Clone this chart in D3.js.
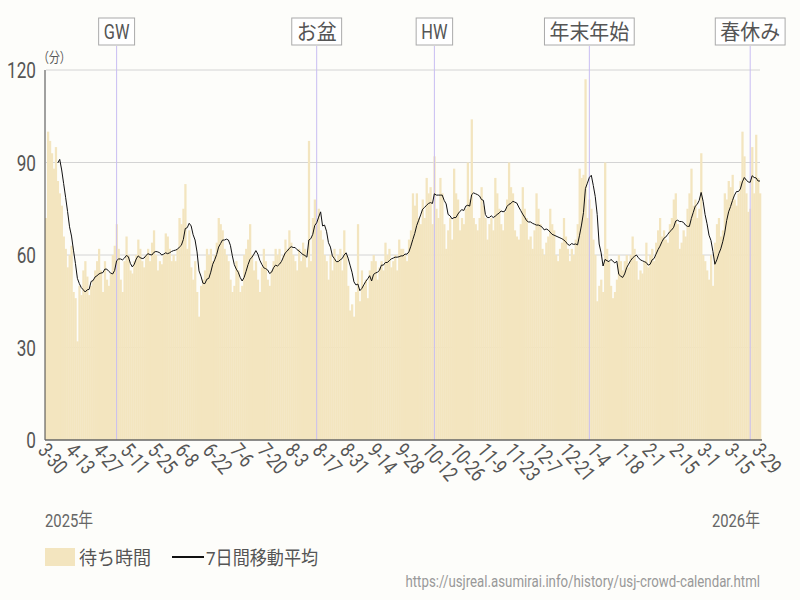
<!DOCTYPE html>
<html><head><meta charset="utf-8">
<script src="https://cdn.jsdelivr.net/npm/d3@7"></script>
<style>body{margin:0;background:#fdfdfa}svg{font-family:"Roboto","Noto Sans CJK JP",sans-serif}</style>
</head><body><svg id="c" width="800" height="600"></svg>
<script>
const startDate = "2025-03-30";
const waitTimes = [
72,100,97,93,88,95,84,
80,76,66,62,56,60,63,
48,46,32,50,47,55,58,
53,47,50,52,55,58,62,
55,48,58,52,50,54,60,
63,70,62,52,48,58,66,
60,55,54,58,60,65,62,
58,56,60,62,58,64,68,
60,55,58,57,60,67,66,
62,58,60,58,62,72,70,
75,83,62,68,56,52,58,
48,40,50,52,55,62,60,
62,58,60,64,72,70,68,
62,60,58,52,48,50,58,
55,48,50,60,62,65,70,
60,55,58,52,48,56,62,
58,52,50,55,58,62,60,
62,58,60,65,62,68,64,
60,58,55,62,58,64,62,
56,97,58,72,78,70,75,
68,65,60,58,52,60,55,
62,58,60,62,55,68,60,
50,42,44,40,48,70,45,
55,50,52,46,55,58,60,
58,52,56,58,55,64,60,
62,56,58,60,55,65,62,
62,60,58,65,68,80,76,
80,72,70,78,72,85,80,
82,70,92,75,72,85,80,
70,62,68,72,65,88,80,
78,68,72,70,75,90,78,
104,72,70,68,72,82,76,
72,65,70,72,68,85,80,
75,70,68,74,78,90,82,
80,68,66,65,70,82,75,
72,65,66,62,68,80,75,
70,62,60,64,66,75,70,
68,60,58,62,64,72,66,
62,58,62,60,65,70,88,
85,86,117,72,78,75,65,
60,45,50,52,48,90,62,
58,50,46,48,52,60,58,
55,58,60,56,60,66,62,
58,52,55,54,58,64,56,
60,62,58,64,68,72,66,
68,65,64,70,72,78,80,
70,62,64,68,66,75,80,
88,76,78,72,75,93,60,
58,55,52,60,50,64,70,
72,66,68,80,78,84,82,
86,78,76,80,84,100,92,
80,74,75,95,80,99,85,
80];
const yTicks = [0,30,60,90,120];
const events = [
 {label:"GW", date:"2025-05-05"},
 {label:"お盆", date:"2025-08-15"},
 {label:"HW", date:"2025-10-14"},
 {label:"年末年始", date:"2026-01-01"},
 {label:"春休み", date:"2026-03-24"}];

const parse = d3.timeParse("%Y-%m-%d");
const t0 = parse(startDate);
const data = waitTimes.map((v,i)=>({d:d3.timeDay.offset(t0,i), v}));
const ma = data.map((d,i)=> i<6?null:{d:d.d, v:d3.mean(waitTimes.slice(i-6,i+1))}).filter(d=>d);

const svg = d3.select("#c");
const L=46,R=760,T=70,B=440;
const x = d3.scaleTime().domain([t0, data[data.length-1].d]).range([L,R]);
const y = d3.scaleLinear().domain([0,120]).range([B,T]);
const bw = (R-L)/(data.length-1);
function ctext(g, px, py, size, txt, anchor, fill, rot, sx){
  return g.append("text").attr("transform",`translate(${px},${py}) rotate(${rot||0}) scale(${sx||0.78},1)`)
    .attr("text-anchor",anchor||"start").attr("font-size",size).attr("fill",fill||"#555").text(txt);
}

svg.append("g").selectAll("line").data(yTicks.slice(1)).join("line")
 .attr("x1",L).attr("x2",R).attr("y1",d=>y(d)).attr("y2",d=>y(d)).attr("stroke","#d4d4d4");

svg.append("g").selectAll("rect").data(data).join("rect")
 .attr("x",d=>x(d.d)-bw/2).attr("width",bw+0.3).attr("y",d=>y(d.v)).attr("height",d=>B-y(d.v))
 .attr("fill","#f3e5bf");

const ev = svg.append("g");
events.forEach(e=>{
  const ex = x(parse(e.date));
  const sx = /^[A-Z]+$/.test(e.label)?0.78:0.95;
  ev.append("line").attr("x1",ex).attr("x2",ex).attr("y1",46).attr("y2",B).attr("stroke","#c8bdf2");
  const t = ctext(ev, ex, 39, 21, e.label, "middle", "#555", 0, sx);
  const w = t.node().getBBox().width*sx;
  ev.insert("rect","text").attr("x",ex-w/2-5).attr("y",18).attr("width",w+10).attr("height",27).attr("fill","#fff").attr("stroke","#aaa");
});
ev.selectAll("text").raise();

svg.append("path").datum(ma).attr("fill","none").attr("stroke","#111").attr("stroke-width",1)
 .attr("d",d3.line().x(d=>x(d.d)).y(d=>y(d.v)));

svg.append("line").attr("x1",L-1).attr("x2",L-1).attr("y1",T).attr("y2",B).attr("stroke","#444");
svg.append("line").attr("x1",L-1).attr("x2",R+2).attr("y1",B).attr("y2",B).attr("stroke","#666").attr("stroke-width",1.5);
const yg = svg.append("g");
yTicks.forEach(d=>ctext(yg, 36, y(d)+8, 22, d, "end"));
ctext(svg, 38, 62, 14, "（分）", "start");

const xt = d3.range(0,data.length,14).map(i=>data[i].d);
const xg = svg.append("g");
xt.forEach(d=>ctext(xg, x(d)-9, B+11, 21, d3.timeFormat("%-m-%-d")(d), "start", "#555", 50));

ctext(svg, 45, 527, 19, "2025年", "start", "#666");
ctext(svg, 760, 527, 19, "2026年", "end", "#666");

svg.append("rect").attr("x",45).attr("y",548).attr("width",30).attr("height",18).attr("fill","#f3e5bf");
ctext(svg, 79, 565, 19, "待ち時間", "start", "#555", 0, 0.95);
svg.append("line").attr("x1",172).attr("x2",204).attr("y1",557).attr("y2",557).attr("stroke","#111").attr("stroke-width",2);
ctext(svg, 206, 565, 19, "7日間移動平均", "start", "#555", 0, 0.9);
ctext(svg, 760, 587, 17, "https://usjreal.asumirai.info/history/usj-crowd-calendar.html", "end", "#999");
</script></body></html>
